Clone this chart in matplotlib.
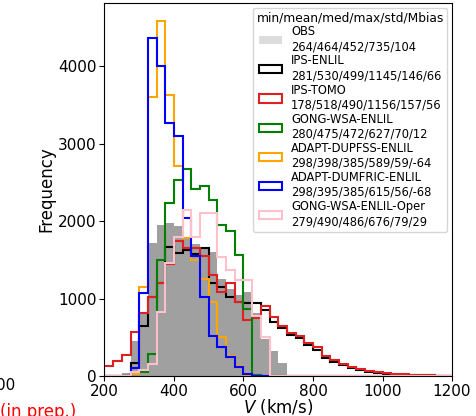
import numpy as np
import matplotlib
matplotlib.use('Agg')
import matplotlib.pyplot as plt
from matplotlib.patches import Patch

# bin edges (km/s), 25 km/s wide
edges = np.arange(175, 1225, 25)

# counts per bin, first bin starts at 175 km/s
obs = [0, 0, 0, 40, 450, 800, 1720, 1950, 1980, 1940, 1800, 1700, 1650, 1600,
       1250, 1130, 1050, 1080, 820, 480, 320, 170, 15, 0, 0, 0, 0, 0, 0, 0,
       0, 0, 0, 0, 0, 0, 0, 0, 0, 0, 0]
ips_enlil = [0, 0, 0, 0, 165, 640, 1020, 1200, 1670, 1590, 1630, 1580, 1650, 1200,
             1150, 1020, 960, 940, 940, 850, 700, 620, 530, 490, 400, 335, 230, 185,
             140, 100, 77, 55, 42, 26, 18, 14, 10, 8, 10, 0, 0]
ips_tomo = [20, 130, 190, 270, 570, 820, 1020, 1200, 1450, 1750, 1650, 1650, 1550, 1300,
            1090, 1200, 950, 720, 750, 910, 760, 640, 560, 520, 420, 370, 260, 210,
            160, 120, 90, 70, 55, 35, 25, 20, 15, 12, 10, 5, 0]
gong_wsa = [0, 0, 0, 0, 30, 50, 280, 1500, 2230, 2530, 2670, 2410, 2450, 2270,
            1950, 1880, 1560, 870, 15, 0, 0, 0, 0, 0, 0, 0, 0, 0, 0, 0,
            0, 0, 0, 0, 0, 0, 0, 0, 0, 0, 0]
adapt_dupfss = [0, 0, 0, 0, 20, 1150, 3610, 4585, 3635, 2710, 1780, 1500, 1250, 950,
                500, 260, 130, 0, 0, 0, 0, 0, 0, 0, 0, 0, 0, 0, 0, 0,
                0, 0, 0, 0, 0, 0, 0, 0, 0, 0, 0]
adapt_dumfric = [0, 0, 0, 0, 100, 1070, 4374, 4000, 3265, 3097, 2040, 1550, 1020, 520,
                 370, 250, 120, 30, 0, 0, 0, 0, 0, 0, 0, 0, 0, 0, 0, 0,
                 0, 0, 0, 0, 0, 0, 0, 0, 0, 0, 0]
gong_oper = [0, 0, 0, 0, 50, 80, 150, 830, 1460, 1800, 2140, 1800, 2100, 2100,
             1540, 1370, 1240, 1240, 780, 500, 5, 0, 0, 0, 0, 0, 0, 0, 0, 0,
             0, 0, 0, 0, 0, 0, 0, 0, 0, 0, 0]

names = ['IPS-ENLIL', 'IPS-TOMO', 'GONG-WSA-ENLIL', 'ADAPT-DUPFSS-ENLIL',
         'ADAPT-DUMFRIC-ENLIL', 'GONG-WSA-ENLIL-Oper']
stats = ['281/530/499/1145/146/66', '178/518/490/1156/157/56',
         '280/475/472/627/70/12', '298/398/385/589/59/-64',
         '298/395/385/615/56/-68', '279/490/486/676/79/29']
colors = ['black', '#e02020', 'green', 'orange', 'blue', 'pink']
series = [ips_enlil, ips_tomo, gong_wsa, adapt_dupfss, adapt_dumfric, gong_oper]

fig = plt.figure(figsize=(4.76, 4.16), dpi=100)
ax = fig.add_axes([0.2195, 0.0962, 0.7301, 0.8966])

centers = edges[:-1] + 12.5
ax.hist(centers, bins=edges, weights=obs, color='gray', alpha=0.75)
for vals, c in zip(series, colors):
    ax.hist(centers, bins=edges, weights=vals, histtype='step', color=c, linewidth=1.5)

ax.set_xlim(200, 1200)
ax.set_ylim(0, 4820)
ax.set_xticks([200, 400, 600, 800, 1000, 1200])
ax.set_yticks([0, 1000, 2000, 3000, 4000])
ax.tick_params(labelsize=11, pad=2)
ax.set_xlabel('$V$ (km/s)', fontsize=12, labelpad=-1)
ax.set_ylabel('Frequency', fontsize=12, labelpad=2)

# legend
handles = [Patch(facecolor='#dcdcdc', edgecolor='none')]
labels = ['OBS\n264/464/452/735/104']
for n, s, c in zip(names, stats, colors):
    handles.append(Patch(facecolor='none', edgecolor=c, linewidth=1.5))
    labels.append(n + '\n' + s)
ax.legend(handles, labels, title='min/mean/med/max/std/Mbias', loc='upper right',
          fontsize=8.3, title_fontsize=8.8, labelspacing=0.1, handlelength=2,
          borderaxespad=0.4, borderpad=0.3)

# bits of the neighbouring panel
fig.text(15 / 476, 1 - 385 / 416, '00', fontsize=11, ha='right', va='center')
fig.text(0.0, 1 - 403 / 416, '(in prep.)', fontsize=12, color='red', ha='left', va='top')

fig.savefig('out.png', dpi=100)
